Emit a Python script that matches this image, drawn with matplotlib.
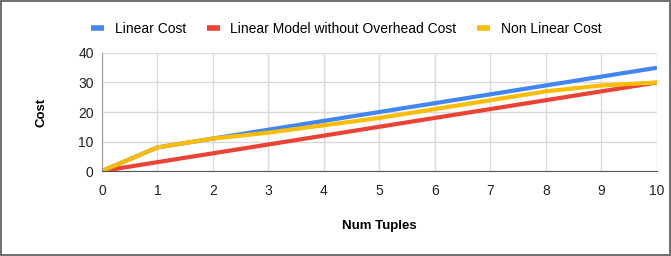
import matplotlib
matplotlib.use("Agg")
import matplotlib.pyplot as plt
from matplotlib.patches import Rectangle

plt.rcParams['font.family'] = ['Liberation Sans', 'DejaVu Sans']

num_tuples = [0, 1, 2, 3, 4, 5, 6, 7, 8, 9, 10]
linear_cost = [0, 8, 11, 14, 17, 20, 23, 26, 29, 32, 35]
linear_no_overhead = [0, 3, 6, 9, 12, 15, 18, 21, 24, 27, 30]
non_linear_cost = [0, 8, 11, 13, 15.5, 18, 21, 24, 27, 29, 30]

fig = plt.figure(figsize=(6.71, 2.56), dpi=100)
ax = fig.add_axes([0.152, 0.332, 0.827, 0.461])

ax.plot(num_tuples, linear_cost, color='#4285F4', lw=3, label='Linear Cost', solid_capstyle='butt')
ax.plot(num_tuples, linear_no_overhead, color='#EA4335', lw=3,
        label='Linear Model without Overhead Cost', solid_capstyle='butt')
ax.plot(num_tuples, non_linear_cost, color='#FBBC04', lw=3, label='Non Linear Cost', solid_capstyle='butt')

ax.set_xlim(0, 10)
ax.set_ylim(0, 40)
ax.set_xticks(range(0, 11))
ax.set_yticks([0, 10, 20, 30, 40])
ax.grid(True, color='#d9d9d9', lw=1)
ax.set_axisbelow(True)
for s in ['top', 'right']:
    ax.spines[s].set_visible(False)
ax.spines['left'].set_color('#999999')
ax.spines['bottom'].set_color('#555555')
ax.tick_params(length=0, labelsize=10, colors='#222222')
ax.tick_params(axis='x', pad=9)
ax.tick_params(axis='y', pad=6)

ax.set_xlabel('Num Tuples', fontsize=9.5, fontweight='bold', labelpad=16)
ax.set_ylabel('Cost', fontsize=9.5, fontweight='bold', labelpad=22)

leg = fig.legend(loc='center', bbox_to_anchor=(0.516, 0.888), ncol=3, frameon=False,
                 fontsize=10, handlelength=0.95, handletextpad=0.75, columnspacing=1.5)
for h in leg.get_lines():
    h.set_linewidth(4)

fig.patches.append(Rectangle((0.002, 0.004), 0.996, 0.992, transform=fig.transFigure,
                             fill=False, edgecolor='#555555', lw=1.2))

fig.savefig('out.png', dpi=100)
